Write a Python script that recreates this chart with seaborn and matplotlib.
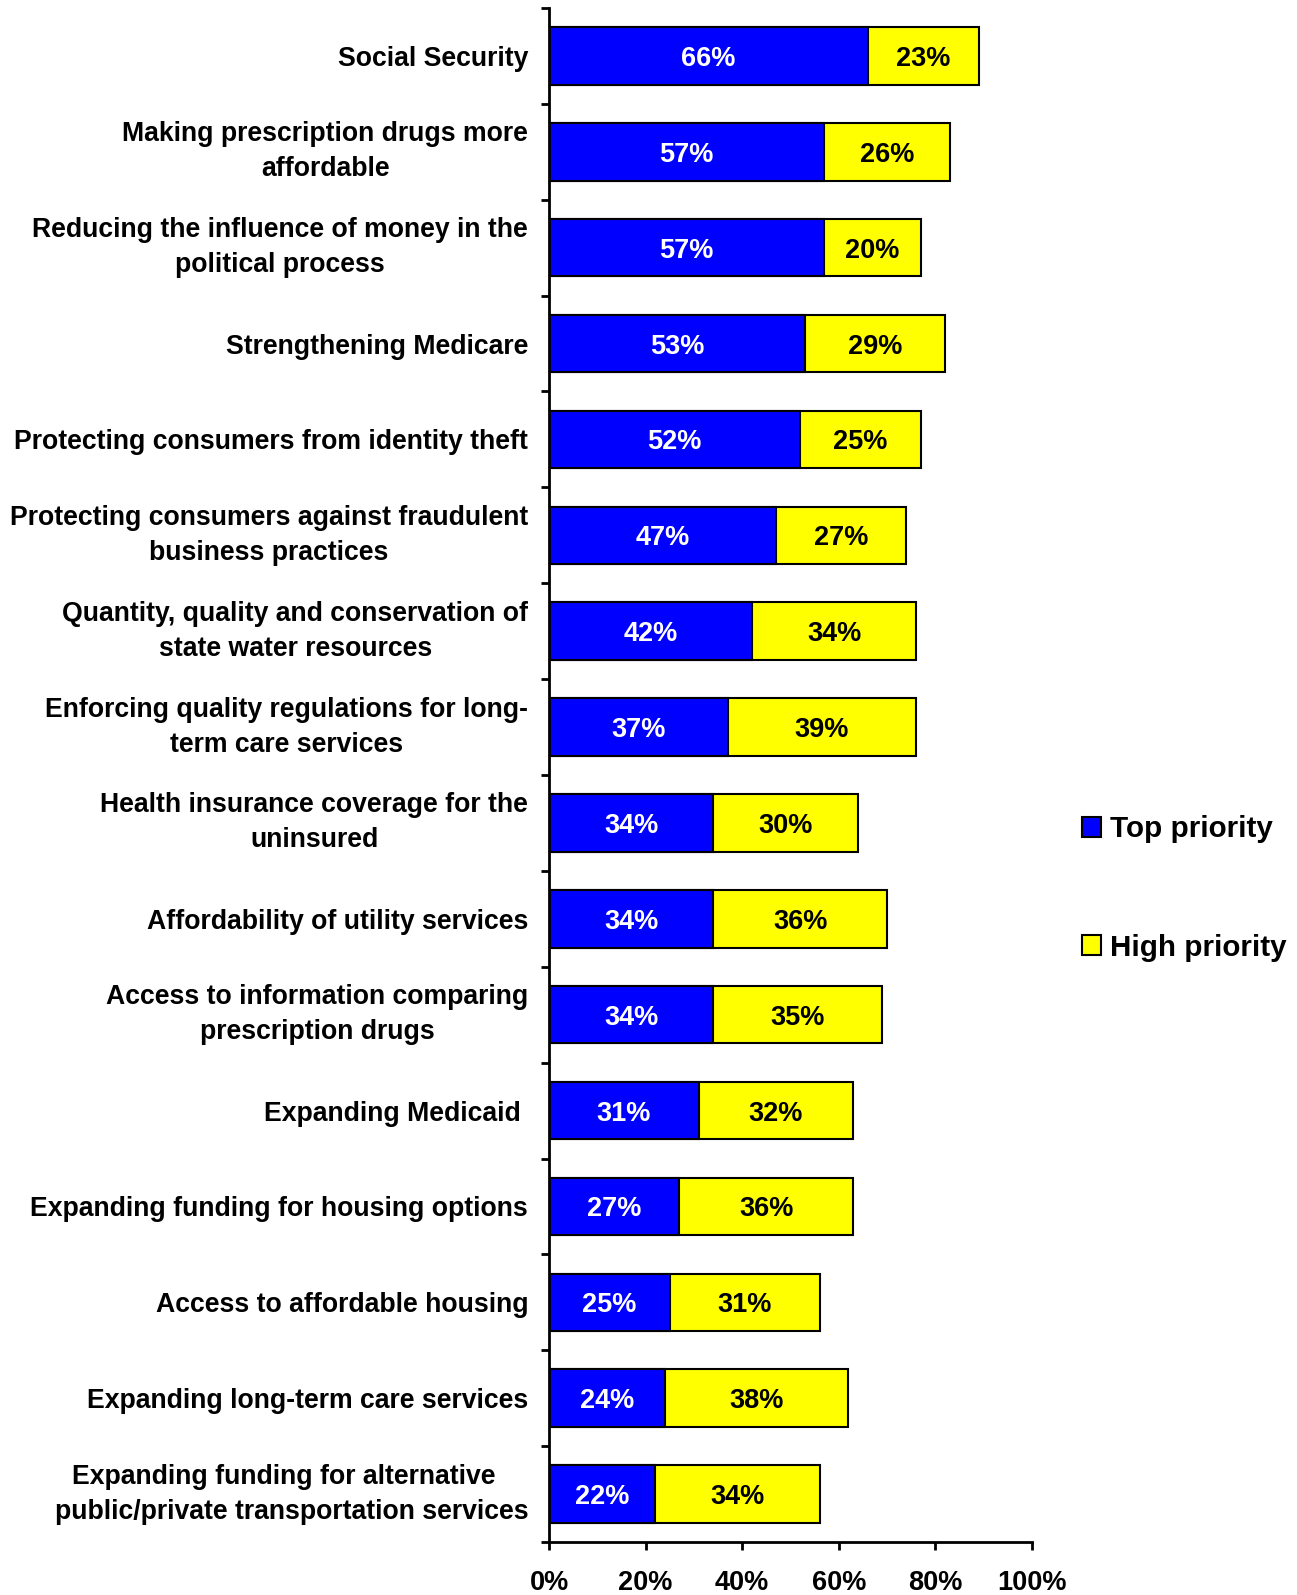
import matplotlib
matplotlib.use("Agg")
import matplotlib.pyplot as plt
import matplotlib.transforms as mtransforms
import seaborn as sns
import pandas as pd
import numpy as np
from matplotlib.patches import Patch
from matplotlib.ticker import FixedLocator, FuncFormatter

categories = [
    "Social Security",
    "Making prescription drugs more\naffordable",
    "Reducing the influence of money in the\npolitical process",
    "Strengthening Medicare",
    "Protecting consumers from identity theft",
    "Protecting consumers against fraudulent\nbusiness practices",
    "Quantity, quality and conservation of\nstate water resources",
    "Enforcing quality regulations for long-\nterm care services",
    "Health insurance coverage for the\nuninsured",
    "Affordability of utility services",
    "Access to information comparing\nprescription drugs",
    "Expanding Medicaid ",
    "Expanding funding for housing options",
    "Access to affordable housing",
    "Expanding long-term care services",
    "Expanding funding for alternative  \npublic/private transportation services",
]
top_priority = [66, 57, 57, 53, 52, 47, 42, 37, 34, 34, 34, 31, 27, 25, 24, 22]
high_priority = [23, 26, 20, 29, 25, 27, 34, 39, 30, 36, 35, 32, 36, 31, 38, 34]
x_ticks = [0, 20, 40, 60, 80, 100]

df = pd.DataFrame({"category": categories, "top": top_priority, "high": high_priority})
df["total"] = df["top"] + df["high"]

sns.set_style("white")
plt.rcParams["font.family"] = ["Liberation Sans", "DejaVu Sans"]
plt.rcParams["font.weight"] = "bold"
for k in ["text.color", "axes.labelcolor", "xtick.color", "ytick.color"]:
    plt.rcParams[k] = "black"

fig = plt.figure(figsize=(12.97, 15.95), dpi=100)
ax = fig.add_axes([0.4233, 0.0332, 0.7957 - 0.4233, 0.995 - 0.0332])

BLUE = "#0000FF"
YELLOW = "#FFFF00"

sns.barplot(data=df, y="category", x="total", color=YELLOW, orient="h",
            width=0.6, edgecolor="black", linewidth=1.5, saturation=1, ax=ax)
sns.barplot(data=df, y="category", x="top", color=BLUE, orient="h",
            width=0.6, edgecolor="black", linewidth=1.5, saturation=1, ax=ax)

for i, (t, h) in enumerate(zip(df["top"], df["high"])):
    ax.text(t / 2, i, f"{t}%", color="white", ha="center", va="center_baseline",
            fontsize=19.5, fontweight="bold")
    ax.text(t + h / 2, i, f"{h}%", color="black", ha="center", va="center_baseline",
            fontsize=19.5, fontweight="bold")

n = len(categories)
ax.set_xlim(0, 100)
ax.set_ylim(n - 0.5, -0.5)
ax.set_xlabel("")
ax.set_ylabel("")

ax.xaxis.set_major_locator(FixedLocator(x_ticks))
ax.xaxis.set_major_formatter(FuncFormatter(lambda v, p: f"{v:.0f}%"))
ax.tick_params(axis="x", which="major", direction="out", length=6, width=2,
               labelsize=19.5, pad=14, bottom=True)
for lbl in ax.get_xticklabels():
    lbl.set_fontweight("bold")

ax.set_yticks(np.arange(n))
ax.set_yticklabels(categories, fontsize=19.2, fontweight="bold", ha="right",
                   multialignment="center", linespacing=1.45)
shift = mtransforms.ScaledTranslation(0, -0.04, fig.dpi_scale_trans)
for lbl in ax.get_yticklabels():
    if "\n" in lbl.get_text():
        lbl.set_va("center")
        lbl.set_transform(lbl.get_transform() + shift)
ax.yaxis.set_minor_locator(FixedLocator(np.arange(-0.5, n, 1.0)))
ax.tick_params(axis="y", which="major", length=0, pad=15)
ax.tick_params(axis="y", which="minor", direction="out", length=6, width=2, left=True)

for s in ["top", "right"]:
    ax.spines[s].set_visible(False)
for s in ["left", "bottom"]:
    ax.spines[s].set_visible(True)
    ax.spines[s].set_linewidth(2)
    ax.spines[s].set_color("black")

handles = [Patch(facecolor=BLUE, edgecolor="black", linewidth=1.5, label="Top priority"),
           Patch(facecolor=YELLOW, edgecolor="black", linewidth=1.5, label="High priority")]
fig.legend(handles=handles, loc="center left", bbox_to_anchor=(0.834, 0.443),
           frameon=False, handlelength=0.65, handleheight=0.65,
           handletextpad=0.3, labelspacing=3.05, borderpad=0, borderaxespad=0,
           prop={"weight": "bold", "size": 21.3})

fig.savefig("out.png", dpi=100)
